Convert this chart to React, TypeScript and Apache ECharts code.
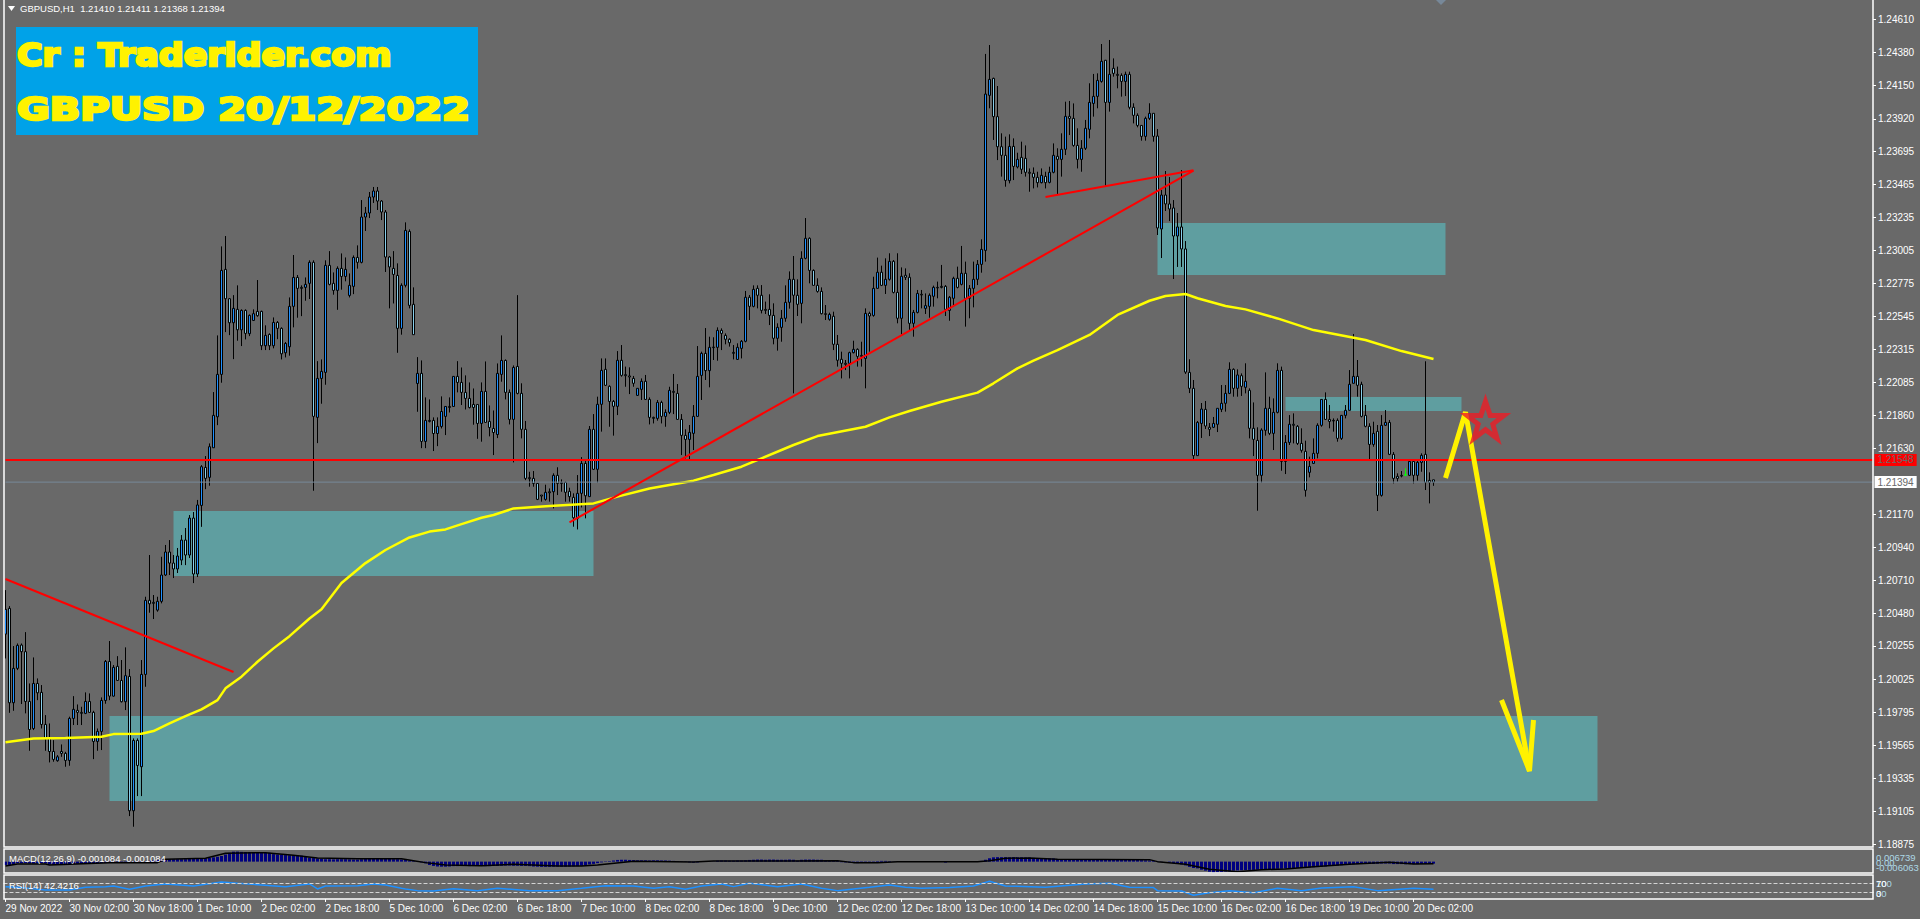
import React, { useEffect, useRef } from "react";
import * as echarts from "echarts";

// Candle values: [open, close, low, high] in 1e-5 price units
const candlesNov = [
[120337,120509,120168,120643],[120516,119860,119790,120532],[119860,120099,119804,120254],[120099,120259,120087,120272],
[120261,120215,119851,120272],[120215,119869,119786,120351],[119869,119674,119526,119994],[119681,119994,119670,120175],
[119994,119929,119878,120029],[119932,119709,119681,119983],[119709,119612,119526,119774],[119612,119521,119445,119716],
[119521,119466,119450,119600],[119457,119484,119450,119496],[119521,119508,119484,119570],[119508,119459,119415,119519],
[119459,119751,119422,119763],[119751,119814,119705,119906],[119807,119793,119705,119848],[119793,119786,119705,119832],
[119786,119869,119781,119932],[119869,119793,119790,119925],[119793,119591,119468,119804],[119591,119661,119526,119681],
[119661,119876,119531,119897],[119876,120147,119853,120157],[120147,119906,119878,120289],[119906,120106,119902,120122],
[120113,120015,120013,120184],[120015,119867,119862,120157],[119867,120048,119809,120245],[120043,119109,119072,120094],
[119109,119598,118998,119612],[119598,119424,119211,119612],[119415,120057,119211,120157],[120057,120572,119971,120597],
[120572,120548,120486,120887],[120558,120551,120442,120609],[120504,120565,120493,120597],[120565,120748,120551,120875],
[120748,120908,120741,120957],[120908,120831,120748,120991],[120831,120790,120727,120887],[120790,120880,120762,120936],
[120852,120991,120817,121026],[120991,120887,120817,121075],[120887,121144,120866,121165],[121144,120755,120692,121186],
[120755,121235,120734,121270],[121232,121501,121083,121512],[121496,121420,121345,121575],[121427,121640,121369,121663],
[121633,121858,121633,122020],[121848,122143,121790,122414],[122143,122866,122085,123033],[122873,122669,122437,123105],
[122669,122502,122416,122674],[122502,122602,122249,122694],[122595,122453,122377,122762],[122453,122588,122340,122595],
[122588,122428,122386,122595],[122426,122553,122409,122560],[122518,122565,122514,122595],[122581,122551,122544,122799],
];
const candlesEarlyDec = [
[122581,122342,122312,122586],[122342,122414,122312,122484],[122421,122342,122312,122428],[122342,122504,122324,122539],
[122504,122463,122388,122514],[122463,122286,122247,122470],[122293,122358,122261,122368],[122335,122616,122273,122678],
[122616,122817,122470,122973],[122817,122741,122537,122834],[122748,122741,122548,122762],[122748,122769,122655,122817],
[122776,122922,122667,122936],[122922,121851,121334,122936],[121844,122115,121665,122235],[122115,122164,121939,122247],
[122157,122901,122071,122936],[122901,122769,122762,123000],[122776,122727,122697,122852],[122727,122880,122592,122894],
[122880,122824,122732,122984],[122824,122873,122790,122956],[122692,122762,122678,122845],[122755,122956,122701,122970],
[122956,122922,122878,123040],[122922,123237,122915,123355],[123237,123265,123140,123307],[123265,123376,123230,123411],
[123376,123418,123335,123446],[123418,123348,123286,123446],[123348,123272,123216,123355],[123272,122959,122855,123286],
[122959,122890,122602,122966],[122880,122838,122636,123000],[122831,122463,122293,122915],[122463,122762,122419,122776],
[122762,123144,122748,123200],[123137,122623,122602,123151],[122630,122419,122419,122748],[122080,122150,121883,122263],
[122150,121677,121630,122240],[121677,121823,121630,121983],[121823,121816,121809,121969],[121823,121732,121610,121844],
[121732,121781,121644,121844],[121781,121885,121767,121990],[121851,121920,121721,121920],[121920,121913,121878,121983],
[121920,122129,121920,122129],[122129,122087,122018,122235],[122087,122018,121930,122191],[122018,121976,121899,122136],
[121976,121913,121906,122087],[121934,121913,121793,122045],[121934,121802,121695,121934],[121802,122025,121675,122087],
[122025,121809,121809,122233],[121816,121774,121712,121927],[121767,121739,121582,121892],[121725,122150,121700,122219],
[122143,122240,122092,122414],[122240,122018,121969,122247],[122018,121830,121795,122038],[121830,122191,121531,122205],
[122198,122011,122004,122694],
];
const candlesMidDec = [
[122011,121761,121698,122081],[121761,121420,121408,121819],[121425,121418,121362,121466],[121420,121385,121362,121471],
[121385,121274,121269,121385],[121304,121297,121258,121304],[121274,121323,121265,121376],[121327,121320,121258,121350],
[121327,121441,121211,121455],[121441,121385,121304,121497],[121390,121385,121327,121413],[121392,121323,121258,121397],
[121330,121293,121258,121355],[121288,121146,121084,121316],[121142,121316,121065,121443],[121316,121524,121218,121568],
[121524,121299,121142,121548],[121293,121761,121293,121784],[121761,121483,121478,121867],[121483,121935,121390,121988],
[121935,122171,121745,122254],[122178,122067,122062,122254],[122060,121955,121779,122067],[121955,121921,121717,121965],
[121921,122241,121860,122305],[122241,122136,122127,122347],[122141,122134,122057,122197],[122132,122125,122006,122192],
[122115,122081,122057,122132],[121997,122046,121993,122046],[122039,122095,121965,122115],[122095,121969,121965,122139],
[121969,121844,121795,121983],[121844,121837,121802,121849],[121837,121948,121821,121965],[121948,121851,121802,121960],
[121851,121879,121779,121900],[121879,122032,121867,122057],[122025,122018,121867,122146],[122011,121830,121830,122076],
[121830,121719,121582,121867],[121719,121691,121559,121761],[121691,121740,121548,121791],[121733,121851,121617,121930],
[121851,122129,121849,122340],[122136,122289,121965,122301],[122289,122169,122104,122465],[122169,122331,122053,122405],
[122333,122329,122243,122401],[122331,122449,122238,122470],[122449,122428,122312,122463],[122414,122387,122352,122428],
[122387,122363,122336,122394],[122296,122289,122247,122347],[122247,122331,122243,122359],[122324,122373,122254,122382],
[122373,122679,122366,122723],[122679,122616,122521,122695],[122616,122734,122609,122762],[122741,122693,122602,122762],
[122693,122588,122567,122764],[122595,122588,122563,122649],[122595,122553,122486,122700],[122553,122394,122352,122637],
[122394,122470,122308,122498],[122470,122533,122370,122591],[122533,122644,122509,122762],[122644,122804,122600,122859],
[122804,122693,122011,122966],[122693,122630,122549,122804],[122637,122950,122498,122999],[122950,123089,122943,123230],
[123089,122866,122776,123096],[122866,122762,122762,122873],[122762,122720,122711,122811],[122720,122565,122560,122748],
[122565,122560,122521,122625],[122526,122560,122516,122572],[122547,122352,122312,122579],[122352,122241,122197,122417],
[122248,122220,122115,122301],[122220,122213,122173,122243],[122220,122294,122115,122301],[122294,122317,122289,122377],
[122317,122268,122197,122324],[122275,122268,122197,122370],[122254,122567,122046,122602],[122567,122549,122301,122579],
[122553,122741,122544,122822],[122741,122853,122741,122955],[122853,122762,122757,122899],[122762,122804,122702,122950],
[122804,122929,122795,122985],[122929,122713,122706,122938],[122713,122533,122498,122985],[122533,122825,122421,122887],
[122832,122818,122799,122880],[122818,122498,122452,122846],[122498,122574,122405,122591],[122574,122706,122567,122730],
[122700,122695,122602,122730],[122602,122621,122563,122706],[122616,122693,122537,122706],[122686,122748,122614,122760],
[122748,122744,122672,122788],[122755,122748,122741,122904],[122755,122595,122549,122764],[122588,122679,122516,122688],
[122672,122811,122614,122822],[122811,122748,122741,122892],[122769,122846,122762,123036],[122846,122672,122475,122927],
[122672,122741,122533,122764],[122741,122804,122609,122927],[122804,122908,122764,122938],[122908,123012,122850,123082],
];
const candlesLateDec = [
[123005,124092,122927,124371],[124083,124194,123993,124433],[124201,123935,123773,124206],[123935,123726,123633,124148],
[123726,123666,123518,123819],[123666,123492,123448,123796],[123490,123728,123471,123812],[123728,123589,123494,123784],
[123585,123638,123575,123684],[123652,123569,123536,123761],[123645,123548,123518,123735],[123548,123541,123413,123575],
[123541,123513,123436,123582],[123513,123476,123443,123552],[123476,123527,123471,123575],[123520,123476,123436,123552],
[123478,123548,123471,123587],[123548,123666,123541,123749],[123659,123638,123397,123715],[123638,123708,123518,123819],
[123708,123937,123668,124039],[123937,123923,123807,124044],[123923,123735,123726,124027],[123735,123638,123575,123854],
[123638,123715,123552,123772],[123715,123854,123703,123912],[123847,124034,123784,124167],[124027,124076,123935,124232],
[124076,124187,123993,124236],[124180,124320,124171,124440],[124327,124034,123453,124329],[124034,124229,123970,124468],
[124271,124236,124213,124340],[124229,124222,124132,124283],[124222,124180,124074,124236],[124180,124229,124078,124248],
[124229,124000,123986,124248],[124000,123944,123888,124028],[123944,123874,123861,123958],[123874,123798,123768,123874],
[123798,123923,123768,123935],[123923,123958,123912,124028],[123958,123798,123761,123958],[123800,123161,123112,123849],
[123154,123390,122952,123425],[123390,123328,123279,123557],[123328,123293,123209,123515],[123300,123105,122806,123355],
[123105,123168,122890,123265],[123168,123015,122890,123564],[123015,122159,122146,123070],[122157,122046,122013,122248],
[122046,121578,121555,122104],[121578,121809,121578,121819],[121802,121902,121701,121944],[121900,121784,121763,121958],
[121775,121761,121714,121805],[121775,121802,121770,121847],[121796,121907,121742,121907],[121900,121942,121881,122069],
[121942,122011,121884,122069],[122011,122178,122006,122227],[122178,122046,121988,122185],[122046,122139,121988,122178],
[122134,122060,121993,122150],[122053,122095,122011,122220],[122032,121768,121698,122046],[121768,121691,121575,121948],
[121684,121441,121195,121775],[121441,121756,121390,121768],[121754,121907,121717,122157],[121907,121733,121721,121988],
[121733,121879,121617,121976],[121879,122171,121872,122220],[122171,121538,121473,122197],[121538,121670,121450,121721],
[121670,121796,121652,121860],[121796,121789,121663,121872],[121782,121663,121652,121791],[121663,121615,121599,121768],
[121608,121337,121293,121682],[121462,121503,121427,121571],[121524,121594,121520,121698],[121594,121789,121559,121803],
[121789,121969,121779,121969],[121969,121830,121826,122018],[121830,121816,121768,121930],[121823,121819,121745,121837],
[121823,121698,121675,121837],[121698,121858,121687,121860],[121858,121893,121837,121930],[121893,122074,121891,122173],
[122081,122129,122081,122424],[122129,122067,121988,122243],[122074,121851,121844,122092],[121858,121782,121775,121930],
[121782,121656,121552,121803],[121656,121733,121640,121814],[121747,121302,121193,121791],[121302,121789,121293,121860],
[121789,121809,121784,121895],[121809,121587,121582,121826],[121587,121420,121385,121603],[121434,121420,121397,121455],
[121441,121436,121427,121471],[121446,121441,121441,121490],[121441,121538,121436,121543],[121538,121441,121385,121543],
[121441,121531,121404,121543],[121531,121580,121466,121594],[121587,121392,121339,122234],[121406,121392,121246,121462],
[121410,121394,121368,121411],
];

const timeLabels = ["29 Nov 2022","30 Nov 02:00","30 Nov 18:00","1 Dec 10:00","2 Dec 02:00","2 Dec 18:00","5 Dec 10:00","6 Dec 02:00","6 Dec 18:00","7 Dec 10:00","8 Dec 02:00","8 Dec 18:00","9 Dec 10:00","12 Dec 02:00","12 Dec 18:00","13 Dec 10:00","14 Dec 02:00","14 Dec 18:00","15 Dec 10:00","16 Dec 02:00","16 Dec 18:00","19 Dec 10:00","20 Dec 02:00"];
const priceTicks = [1.2461,1.2438,1.2415,1.2392,1.23695,1.23465,1.23235,1.23005,1.22775,1.22545,1.22315,1.22085,1.2186,1.2163,1.2117,1.2094,1.2071,1.2048,1.20255,1.20025,1.19795,1.19565,1.19335,1.19105,1.18875];

// Yellow moving average: [bar, price * 1e5]
const movingAverage = [[0,119586],[7,119612],[15,119614],[24,119623],[27,119642],[34,119644],[37,119663],[41,119716],[45,119767],[49,119814],[53,119878],[55,119960],[59,120041],[63,120145],[67,120238],[71,120323],[76,120446],[79,120510],[84,120692],[90,120831],[95,120922],[101,121009],[106,121050],[110,121065],[114,121102],[119,121146],[122,121165],[127,121211],[136,121228],[147,121246],[153,121293],[161,121350],[172,121404],[177,121443],[184,121501],[189,121559],[197,121652],[203,121714],[215,121779],[221,121844],[226,121888],[234,121953],[243,122016],[247,122081],[253,122185],[257,122238],[263,122312],[271,122417],[278,122556],[286,122655],[290,122688],[295,122702],[298,122672],[305,122618],[310,122595],[318,122532],[327,122451],[340,122382],[349,122305],[357,122250]];

// Red trend lines and yellow arrow: [bar, price * 1e5]
const trendDown = [[0,120720],[57,120074]];
const trendUp = [[141,121114],[297,123559]];
const trendTop = [[260,123376],[297,123562]];
const arrowPath = [[360,121422],[365,121881],[381,119385]];
const arrowHead = [[374,119879],[381,119385],[382,119740]];
const starPoint = [370,121826];

// Demand / supply zones: [startBar, endBar, highPrice, lowPrice]
const zones = [[42,147,121193,120741],[26,398,119768,119177],[288,360,123195,122834],[320,364,121986,121888]];
const redLevel = 121548;
const bidLevel = 121394;

// MACD histogram in 1e-5 units
const macdA = [-178,-178,-160,-80,-90,-70,-90,-100,-90,-80,-90,-140,-160,-160,-150,-150,-130,-120,-110,-110,-100,-90,-90,-80,-70,-60,-40,-30,-20,-20,-30,-50,-60,-50,-20,10,40,60,90,110,120,125,125,130,130,130,140,140,150,160,180,200,230,260,300,380,470,530,534,520,510,500,500,490,490,480,470,400,380,360,350,340,340,330,320,300,210,190,170,150,130,130,120,130,130,130,120,110,110,130,150,170,180,180,170,150,140,130,130,110,90,60,30,10,-40,-90,-180,-230,-260,-270];
const macdB = [-270,-260,-240,-240,-230,-230,-240,-230,-220,-230,-240,-240,-220,-230,-220,-210,-210,-220,-220,-230,-230,-240,-260,-270,-280,-280,-280,-270,-260,-270,-270,-260,-250,-240,-220,-190,-150,-120,-80,-40,-20,30,60,90,100,100,90,80,70,70,70,60,70,70,60,60,50,40,30,20,20,-40,-50,-40,-20,-20,-10,-10,50,60,60,50,50,60,60,70,90,100,110,110,100,110,110,100,100,100,110,100,50,100,110,110,110,100,100,60,50,50,40,-30,-40,-50,-70,-80,-70,-70,-60,20,30,40,40,30];
const macdC = [10,0,0,5,0,-5,0,0,0,5,0,0,0,-50,0,0,5,5,0,0,10,20,40,100,180,230,240,240,240,230,240,230,230,220,220,200,190,180,180,170,170,130,120,110,110,100,110,100,100,110,120,130,130,120,130,130,120,120,110,110,110,100,80,70,60,40,20,10,0,-40,-70,-100,-150,-200,-280,-340,-360,-430,-480,-540,-587,-560,-550,-530,-520,-480,-470,-460,-450,-440,-440,-430,-420,-410,-400,-400,-380,-380,-370,-360,-350,-340,-330,-320,-310,-300,-290,-270,-260,-230,-220,-210,-190,-170,-150,-140,-130,-120,-120,-110,-120,-110,-100,-100,-100,-130,-130,-130,-140,-130,-130,-130,-120,-120,-110,-108];
const macdSignal = [[0,-230],[3,-125],[10,-125],[11,-178],[26,-53],[38,-53],[40,125],[50,178],[55,445],[65,480],[72,338],[78,200],[88,150],[99,150],[102,53],[105,-53],[110,-178],[119,-213],[127,-142],[138,-231],[144,-231],[148,-178],[157,18],[172,-18],[177,36],[196,36],[208,53],[212,-53],[218,-53],[223,0],[243,0],[246,53],[250,178],[256,196],[263,125],[286,107],[288,0],[295,-142],[301,-409],[308,-534],[314,-427],[320,-392],[327,-267],[336,-142],[346,-36],[352,-125],[357,-108]];

// RSI(14): [bar, value]
const rsiLine = [[0,55.8],[4,51.6],[10,41.6],[16,41.6],[20,53],[25,55.8],[27,58.7],[31,44.5],[35,58.7],[40,67.2],[47,58.7],[54,75.7],[58,70],[64,62.9],[70,55.8],[76,67.2],[78,45.9],[80,58.7],[88,60],[92,67.2],[95,62.9],[99,48.7],[100,45.9],[103,38.8],[107,37.4],[112,47.3],[118,38.8],[123,48.7],[131,38.8],[138,38.8],[144,48.7],[150,60],[157,58.7],[162,48.7],[166,55.8],[170,44.5],[174,58.7],[179,67.2],[182,55.8],[186,70],[193,55.8],[199,67.2],[204,48.7],[208,38.8],[216,53],[221,62.9],[225,53],[229,48.7],[236,51.6],[242,58.7],[246,78.5],[250,58.7],[260,53],[270,67.2],[276,70],[281,53],[287,51.6],[288,38.8],[294,37.4],[297,19],[301,30],[306,38.8],[312,30],[318,48.7],[324,38.8],[329,50],[337,55.8],[343,38.8],[352,48.7],[357,44.5]];

const BAR_SLOTS = 468;
const LAST_LABEL_BAR = 352;
const categories = Array.from({ length: BAR_SLOTS }, (_, i) =>
  i % 16 === 0 && i / 16 < timeLabels.length ? timeLabels[i / 16] : ""
);
const FONT = '"Liberation Sans", sans-serif';
const FONT_SIZE = 10;
const SMALL_FONT_SIZE = 9.5;
const px = (v: number) => v / 1e5;
const pairs = (rows: number[][]) => rows.map(([i, v]) => [i, px(v)]);

const STAR = "path://M50 2 L62 37 L98 37 L69 59 L80 95 L50 73 L20 95 L31 59 L2 37 L38 37 Z";

export default function App() {
  const ref = useRef<HTMLDivElement>(null);
  useEffect(() => {
    const chart = echarts.init(ref.current!, null, { renderer: "svg" });
    const candles = [...candlesNov, ...candlesEarlyDec, ...candlesMidDec, ...candlesLateDec];
    const macd = [...macdA, ...macdB, ...macdC];
    const grids = [
      { left: 3.5, top: 0, width: 1872, height: 847 },
      { left: 3.5, top: 849, width: 1872, height: 24 },
      { left: 3.5, top: 875, width: 1872, height: 24 },
    ];
    const hiddenX = (gridIndex: number) => ({
      type: "category" as const, gridIndex, data: categories, show: false, boundaryGap: true,
    });
    const annotation = (rows: number[][], color: string, width: number, z = 6) => ({
      type: "line" as const, data: pairs(rows), showSymbol: false, silent: true, z,
      lineStyle: { color, width }, itemStyle: { color }, xAxisIndex: 0, yAxisIndex: 0, animation: false,
    });
    const level = (value: number, color: string, width: number, bg: string) => ({
      ...annotation([[0, value], [BAR_SLOTS - 1, value]], color, width, 5),
      endLabel: {
        show: true, formatter: px(value).toFixed(5), distance: 1, backgroundColor: bg, color: "#696969",
        fontFamily: FONT, fontSize: FONT_SIZE, padding: [1, 3],
      },
    });
    const frame = (x: number, y: number, w: number, h: number) => ({
      type: "rect", shape: { x, y, width: w, height: h }, style: { fill: "none", stroke: "#fff", lineWidth: 1.5 }, silent: true, z: 20,
    });
    const label = (text: string, x: number, y: number, fill = "#fff") => ({
      type: "text", x, y, silent: true, z: 21,
      style: { text, fill, font: `${SMALL_FONT_SIZE}px ${FONT}`, textVerticalAlign: "middle" },
    });
    const interval = (i: number) => i % 16 === 0 && i <= LAST_LABEL_BAR;
    chart.setOption({
      animation: false,
      backgroundColor: "#696969",
      grid: grids,
      xAxis: [
        hiddenX(0),
        hiddenX(1),
        {
          type: "category", gridIndex: 2, data: categories, boundaryGap: true,
          axisLine: { show: false },
          axisTick: { show: true, alignWithLabel: true, length: 3, lineStyle: { color: "#fff", width: 1 }, interval },
          axisLabel: {
            color: "#fff", fontFamily: FONT, fontSize: FONT_SIZE, align: "left", margin: 4, interval,
            hideOverlap: false, showMinLabel: true, showMaxLabel: true,
          },
        },
      ],
      yAxis: [
        {
          type: "value", gridIndex: 0, position: "right", min: 1.18857, max: 1.24746, offset: -2.5, scale: true,
          splitLine: { show: false },
          axisLine: { show: false },
          axisTick: { show: true, length: 3, lineStyle: { color: "#fff" }, customValues: priceTicks },
          axisLabel: {
            color: "#fff", fontFamily: FONT, fontSize: FONT_SIZE, margin: 5, customValues: priceTicks,
            formatter: (v: number) => v.toFixed(5),
          },
        },
        { type: "value", gridIndex: 1, min: -0.006063, max: 0.006739, show: false, splitLine: { show: false } },
        { type: "value", gridIndex: 2, min: 3.2, max: 105.3, show: false, splitLine: { show: false } },
      ],
      series: [
        {
          type: "candlestick", xAxisIndex: 0, yAxisIndex: 0, barWidth: 3, z: 2, silent: true,
          itemStyle: {
            color: "#1e90ff", color0: "#87ceeb", borderColor: "#000", borderColor0: "#000", borderColorDoji: "#000", borderWidth: 1,
          },
          data: candles.map(([o, c, l, h], i) => ({
            value: [px(o), px(c), px(l), px(h)],
            ...(i === 350 ? { itemStyle: { borderColor: "#00ff00", borderColor0: "#00ff00", borderColorDoji: "#00ff00" } } : {}),
          })),
          markArea: {
            silent: true, z: 1,
            itemStyle: { color: "#5f9ea0", opacity: 1 },
            data: zones.map(([a, b, hi, lo]) => [
              { xAxis: a, yAxis: px(hi) },
              { xAxis: b, yAxis: px(lo) },
            ]),
          },
        },
        level(bidLevel, "#778899", 1, "#fff"),
        level(redLevel, "#ff0000", 2, "#ff0000"),
        annotation(movingAverage, "#ffff00", 2.5, 4),
        annotation(trendDown, "#ff0000", 2),
        annotation(trendUp, "#ff0000", 2),
        annotation(trendTop, "#ff0000", 2),
        annotation(arrowPath, "#fff200", 5, 7),
        annotation(arrowHead, "#fff200", 5, 7),
        {
          type: "scatter", xAxisIndex: 0, yAxisIndex: 0, silent: true, z: 8,
          data: [[starPoint[0], px(starPoint[1])]],
          symbol: STAR, symbolSize: 37,
          itemStyle: { color: "rgba(0,0,0,0)", borderColor: "#ed1c24", borderWidth: 5 },
        },
        {
          type: "bar", xAxisIndex: 1, yAxisIndex: 1, barWidth: 3, silent: true,
          itemStyle: { color: "#000080" },
          data: macd.map((v) => v / 1e5),
        },
        {
          type: "line", xAxisIndex: 1, yAxisIndex: 1, showSymbol: false, silent: true, z: 4,
          lineStyle: { color: "#000", width: 1.5 },
          data: macdSignal.map(([i, v]) => [i, v / 1e5]),
        },
        {
          type: "line", xAxisIndex: 2, yAxisIndex: 2, showSymbol: false, silent: true, z: 4,
          lineStyle: { color: "#1e90ff", width: 1.5 },
          data: rsiLine,
          markLine: {
            silent: true, symbol: ["none", "none"], label: { show: false },
            lineStyle: { color: "#d3d3d3", type: "dashed", width: 1 },
            data: [{ yAxis: 70 }, { yAxis: 30 }],
          },
        },
      ],
      graphic: [
        { type: "rect", shape: { x: 16, y: 27, width: 462, height: 108 }, style: { fill: "#00a2e8" }, silent: true, z: 10 },
        {
          type: "text", x: 17, y: 55, scaleX: 1.09, silent: true, z: 11,
          style: { text: "Cr : Traderider.com", fill: "#fff200", stroke: "#fff200", lineWidth: 2.5, font: 'bold 32px "DejaVu Sans"', textVerticalAlign: "middle" },
        },
        {
          type: "text", x: 17, y: 109, scaleX: 1.25, silent: true, z: 11,
          style: { text: "GBPUSD 20/12/2022", fill: "#fff200", stroke: "#fff200", lineWidth: 2.5, font: 'bold 32px "DejaVu Sans"', textVerticalAlign: "middle" },
        },
        { type: "polygon", shape: { points: [[8, 6], [15, 6], [11.5, 11]] }, style: { fill: "#fff" }, silent: true, z: 21 },
        label("GBPUSD,H1  1.21410 1.21411 1.21368 1.21394", 20, 8),
        { type: "polygon", shape: { points: [[1436, 0], [1446, 0], [1441, 5]] }, style: { fill: "#778899" }, silent: true, z: 9 },
        { type: "polyline", shape: { points: [[4, 0], [4, 847], [1873, 847], [1873, 0]] }, style: { fill: "none", stroke: "#fff", lineWidth: 1.5 }, silent: true, z: 20 },
        frame(4, 849, 1869, 24),
        frame(4, 875, 1869, 24),
        label("MACD(12,26,9) -0.001084 -0.001084", 9, 858),
        label("RSI(14) 42.4216", 9, 885),
        label("0.006739", 1876, 857, "#add8e6"),
        label("0.00", 1876, 862, "#add8e6"),
        label("-0.006063", 1876, 867, "#add8e6"),
        label("100", 1876, 883, "#add8e6"),
        label("70", 1876, 883, "#fff"),
        label("30", 1876, 893, "#add8e6"),
        label("0", 1876, 893, "#fff"),
      ],
    });
    return () => chart.dispose();
  }, []);
  return (
    <div
      ref={ref}
      style={{ position: "fixed", left: 0, top: 0, width: 1920, height: 919 }}
    />
  );
}
